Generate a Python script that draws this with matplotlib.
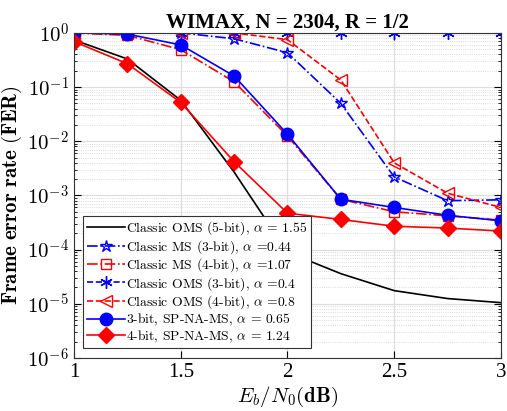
import numpy as np
import matplotlib
matplotlib.use("Agg")
import matplotlib.pyplot as plt

plt.rcParams["mathtext.fontset"] = "cm"

snr_db = [1.0, 1.25, 1.5, 1.75, 2.0, 2.25, 2.5, 2.75, 3.0]

fer_oms5 = [0.74, 0.33, 0.057, 0.0027, 9e-5, 3.6e-5, 1.75e-5, 1.25e-5, 1.05e-5]
fer_ms3 = [1.0, 1.0, 1.0, 0.78, 0.43, 0.05, 0.0022, 8e-4, 8.3e-4]
fer_ms4 = [1.0, 0.9, 0.49, 0.125, 0.0125, 8.5e-4, 5e-4, 4.2e-4, 3.5e-4]
fer_oms3 = [1.0, 1.0, 1.0, 1.0, 1.0, 1.0, 1.0, 1.0, 1.0]
fer_oms4 = [1.0, 1.0, 1.0, 1.0, 0.75, 0.135, 0.004, 0.0011, 6e-4]
fer_spna3 = [1.0, 0.95, 0.6, 0.16, 0.0135, 8.5e-4, 6e-4, 4.3e-4, 3.4e-4]
fer_spna4 = [0.69, 0.27, 0.052, 0.0042, 4.7e-4, 3.6e-4, 2.7e-4, 2.5e-4, 2.2e-4]

labels = [
    r"Classic OMS (5-bit), $\alpha$ = 1.55",
    r"Classic MS (3-bit), $\alpha$ =0.44",
    r"Classic MS (4-bit), $\alpha$ =1.07",
    r"Classic OMS (3-bit), $\alpha$ =0.4",
    r"Classic OMS (4-bit), $\alpha$ =0.8",
    r"3-bit, SP-NA-MS, $\alpha$ = 0.65",
    r"4-bit, SP-NA-MS, $\alpha$ = 1.24",
]

fig = plt.figure(figsize=(5.07, 4.11), dpi=100)
ax = fig.add_axes([0.146, 0.129, 0.842, 0.791])

lw = 1.2
ax.semilogy(snr_db, fer_oms5, "-", color="black", lw=lw, label=labels[0])
ax.semilogy(snr_db, fer_ms3, "-.", color="blue", lw=lw, marker="*", ms=9,
            mfc="none", mec="blue", label=labels[1])
ax.semilogy(snr_db, fer_ms4, "-.", color="red", lw=lw, marker="s", ms=7,
            mfc="none", mec="red", label=labels[2])
ax.semilogy(snr_db, fer_oms3, "--", color="blue", lw=lw, marker=(6, 2, 0), ms=9,
            mec="blue", label=labels[3])
ax.semilogy(snr_db, fer_oms4, "--", color="red", lw=lw, marker="<", ms=9,
            mfc="none", mec="red", label=labels[4])
ax.semilogy(snr_db, fer_spna3, "-", color="blue", lw=lw, marker="o", ms=9,
            mfc="blue", mec="blue", label=labels[5])
ax.semilogy(snr_db, fer_spna4, "-", color="red", lw=lw, marker="D", ms=8,
            mfc="red", mec="red", label=labels[6])

ax.set_xlim(1, 3)
ax.set_ylim(1e-6, 1)
ax.set_xticks([1, 1.5, 2, 2.5, 3])
ax.set_xticklabels(["1", "1.5", "2", "2.5", "3"])
ax.set_yticks([10.0 ** k for k in range(-6, 1)])
ax.set_yticklabels([rf"$10^{{{k}}}$" for k in range(-6, 1)])

ax.grid(True, which="major", color="#dedede", lw=0.9, ls="-")
ax.grid(True, which="minor", color="#cfcfcf", lw=0.6, ls=":")
ax.set_axisbelow(True)
ax.tick_params(which="both", direction="in", top=True, right=True)
ax.tick_params(which="major", length=5, labelsize=15)
ax.tick_params(which="minor", length=2.5)
for lab in ax.get_xticklabels() + ax.get_yticklabels():
    lab.set_fontfamily("Liberation Serif")
for sp in ax.spines.values():
    sp.set_color("#333333")
    sp.set_linewidth(0.8)

ax.set_title("WIMAX, N = 2304, R = 1/2", fontfamily="Liberation Serif",
             fontweight="bold", fontsize=15, pad=3)
ax.set_ylabel(r"$\mathbf{Frame\ error\ rate\ (FER)}$", fontsize=15, labelpad=2)
ax.set_xlabel(r"$E_b/N_0\mathbf{(dB)}$", fontsize=15, labelpad=2)

leg = ax.legend(loc="lower left", bbox_to_anchor=(0.0217, 0.03),
                prop={"family": "cmr10", "size": 9.8}, framealpha=1,
                fancybox=False, edgecolor="#333333", handlelength=2.8,
                handletextpad=0.1, borderpad=0.25, labelspacing=0.05,
                borderaxespad=0.0)
leg.get_frame().set_linewidth(0.8)

fig.savefig("out.png", dpi=100)
